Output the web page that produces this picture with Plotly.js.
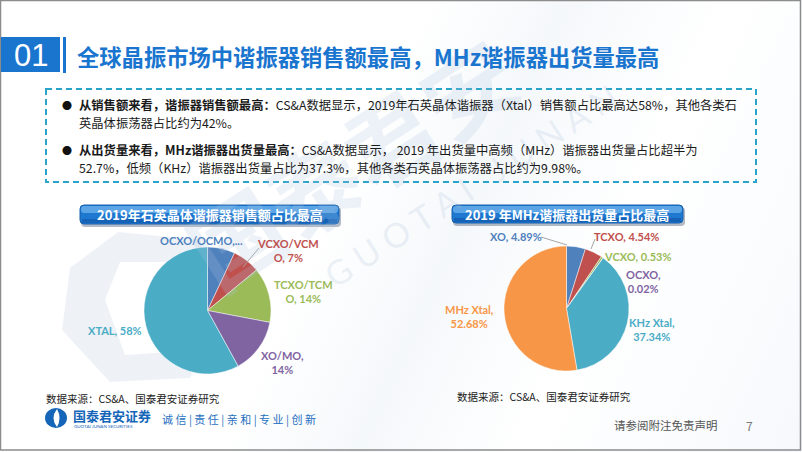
<!DOCTYPE html>
<html>
<head>
<meta charset="utf-8">
<script src="https://cdn.plot.ly/plotly-3.0.1.min.js"></script>
<style>
  html, body { margin:0; padding:0; }
  body { width:802px; height:452px; overflow:hidden;
    background: linear-gradient(115deg, #ffffff 0%, #ffffff 42%, #f5f8fb 56%, #ffffff 72%, #f6f9fc 100%); }
  #chart { width:802px; height:452px; }
</style>
</head>
<body>
<div id="chart"></div>
<script>
// ---------- data ----------
const leftLabels  = ['OCXO/OCMO', 'VCXO/VCMO', 'TCXO/TCMO', 'XO/MO', 'XTAL'];
const leftValues  = [7, 7, 14, 14, 58];
const rightLabels = ['XO', 'TCXO', 'VCXO', 'OCXO', 'KHz Xtal', 'MHz Xtal'];
const rightValues = [4.89, 4.54, 0.53, 0.02, 37.34, 52.68];

const pageTitle   = '全球晶振市场中谐振器销售额最高，MHz谐振器出货量最高';
const leftTitle   = '2019年石英晶体谐振器销售额占比最高';
const rightTitle  = '2019 年MHz谐振器出货量占比最高';
const sourceText  = '数据来源：CS&A、国泰君安证券研究';
const bulletLines = [
  ['从销售额来看，谐振器销售额最高：', 'CS&A数据显示，2019年石英晶体谐振器（Xtal）销售额占比最高达58%，其他各类石'],
  ['', '英晶体振荡器占比约为42%。'],
  ['从出货量来看，MHz谐振器出货量最高：', 'CS&A数据显示， 2019 年出货量中高频（MHz）谐振器出货量占比超半为'],
  ['', '52.7%，低频（KHz）谐振器出货量占比为37.3%，其他各类石英晶体振荡器占比约为9.98%。']
];

// ---------- styles ----------
const leftColors  = ['#4f81bd', '#c0504d', '#9bbb59', '#8064a2', '#4bacc6'];
const rightColors = ['#4f81bd', '#c0504d', '#9bbb59', '#8064a2', '#4bacc6', '#f79646'];
const CJK = '"Noto Sans CJK SC", "Noto Sans", sans-serif';
const LAT = 'Lato, "Open Sans", sans-serif';
const W = 802, H = 452;

function dom(x0, x1, y0, y1) { return { x: [x0 / W, x1 / W], y: [1 - y1 / H, 1 - y0 / H] }; }

// label texts built from data
const pct = v => v + '%';
const lt = leftLabels.map((l, i) => l + ', ' + pct(leftValues[i]));
const rt = rightLabels.map((l, i) => l + ', ' + pct(rightValues[i]));
const leftShown = [
  leftLabels[0] + ',...',
  lt[1].slice(0, 8) + '<br>' + lt[1].slice(8),
  lt[2].slice(0, 8) + '<br>' + lt[2].slice(8),
  leftLabels[3] + ',<br>' + pct(leftValues[3]),
  lt[4]
];
const rightShown = [
  rt[0], rt[1], rt[2],
  rightLabels[3] + ',<br>' + pct(rightValues[3]),
  rightLabels[4] + ',<br>' + pct(rightValues[4]),
  rightLabels[5] + ',<br>' + pct(rightValues[5])
];
const leftPos  = [[201, 240], [288, 250], [303, 291], [282, 362], [115, 330]];
const rightPos = [[516, 236], [626, 236], [637, 256], [643, 281], [652, 329], [469, 316]];
const lineY    = [104.5, 122.5, 149.5, 167.5];

const pieCommon = {
  type: 'pie', sort: false, direction: 'clockwise', rotation: 0,
  textinfo: 'none', hoverinfo: 'label+percent', showlegend: false,
  marker: { line: { color: 'rgba(255,255,255,0.6)', width: 0.8 } }
};

const data = [
  { type: 'scatter', x: [0], y: [0], mode: 'markers', marker: { opacity: 0 }, hoverinfo: 'skip', showlegend: false },
  Object.assign({}, pieCommon, { labels: leftLabels, values: leftValues,
    marker: { colors: leftColors, line: pieCommon.marker.line }, domain: dom(144, 271, 247, 374) }),
  Object.assign({}, pieCommon, { labels: rightLabels, values: rightValues,
    marker: { colors: rightColors, line: pieCommon.marker.line }, domain: dom(504, 629, 246, 371) })
];

function rr(x0, y0, x1, y1, r) {
  return `M${x0 + r},${y0} L${x1 - r},${y0} Q${x1},${y0} ${x1},${y0 + r} L${x1},${y1 - r} Q${x1},${y1} ${x1 - r},${y1} ` +
         `L${x0 + r},${y1} Q${x0},${y1} ${x0},${y1 - r} L${x0},${y0 + r} Q${x0},${y0} ${x0 + r},${y0} Z`;
}
function titleBar(x0, y0, x1, y1) {
  return [
    { type: 'path', path: rr(x0 + 1, y0 + 2, x1 + 2, y1 + 3, 4), fillcolor: 'rgba(40,60,90,0.35)', line: { width: 0 }, xref: 'x', yref: 'y', layer: 'below' },
    { type: 'path', path: rr(x0, y0, x1, y1, 4), fillcolor: '#1f78cf', line: { color: '#1660b0', width: 1 }, xref: 'x', yref: 'y' },
    { type: 'path', path: rr(x0 + 1, y0 + 1, x1 - 1, y0 + 8, 3), fillcolor: 'rgba(140,200,250,0.55)', line: { width: 0 }, xref: 'x', yref: 'y' },
    { type: 'rect', x0: x0 + 2, x1: x1 - 2, y0: y1 - 5, y1: y1 - 1, fillcolor: 'rgba(10,70,150,0.45)', line: { width: 0 }, xref: 'x', yref: 'y' }
  ];
}

const shapes = [
  // slide border
  { type: 'rect', x0: 0.5, x1: 800.5, y0: 0.5, y1: 450, line: { color: '#8c8c8c', width: 1.5 }, xref: 'x', yref: 'y', layer: 'below' },
  // watermark hex ring
  { type: 'path', path: 'M62,330 L70,268 L118,232 L200,240 L222,300 L190,378 L110,382 Z M105,300 L125,355 L170,352 L190,300 L165,262 L120,262 Z',
    fillcolor: 'rgba(195,208,225,0.28)', line: { width: 0 }, xref: 'x', yref: 'y', layer: 'below' },
  // header box
  { type: 'rect', x0: 1, x1: 60, y0: 37, y1: 72, fillcolor: '#1a75cf', line: { width: 0 }, xref: 'x', yref: 'y' },
  { type: 'rect', x0: 63, x1: 66, y0: 37, y1: 73, fillcolor: '#1a75cf', line: { width: 0 }, xref: 'x', yref: 'y' },
  // dashed text box
  { type: 'rect', x0: 46, x1: 756, y0: 89, y1: 182, line: { color: '#2aa3c9', width: 2, dash: '6px,4px' }, fillcolor: 'rgba(0,0,0,0)', xref: 'x', yref: 'y' },
  ...titleBar(80, 205, 339, 224),
  ...titleBar(452, 205, 683, 223),
  // leader lines
  { type: 'line', x0: 259, y0: 248, x1: 243, y1: 267, line: { color: '#a6a6a6', width: 1 }, xref: 'x', yref: 'y' },
  { type: 'line', x0: 541, y0: 237, x1: 567, y1: 245, line: { color: '#a6a6a6', width: 1 }, xref: 'x', yref: 'y' },
  { type: 'line', x0: 595, y0: 239, x1: 591, y1: 249, line: { color: '#a6a6a6', width: 1 }, xref: 'x', yref: 'y' },
  // footer logo
  { type: 'circle', x0: 45, x1: 67, y0: 408, y1: 428, fillcolor: '#1565b8', line: { width: 0 }, xref: 'x', yref: 'y' },
  { type: 'path', path: 'M57,409 Q50,418 57,427 Q62,418 57,409 Z', fillcolor: '#ffffff', line: { width: 0 }, xref: 'x', yref: 'y' }
];

function ann(x, y, text, size, color, opts) {
  return Object.assign({ x, y, xref: 'x', yref: 'y', text, showarrow: false,
    font: { size, color, family: CJK } }, opts || {});
}

const annotations = [
  // watermarks
  ann(350, 160, '<b>国泰君安</b>', 92, 'rgba(175,198,225,0.22)', { textangle: -33 }),
  ann(470, 185, 'G U O T A I   J U N A N', 34, 'rgba(175,195,220,0.22)', { textangle: -33, font: { size: 34, color: 'rgba(175,195,220,0.22)', family: LAT } }),
  // header
  ann(31, 55, '01', 31, '#ffffff', { font: { size: 31, color: '#ffffff', family: '"Liberation Sans", Arial, sans-serif' } }),
  ann(75, 56, '<b>' + pageTitle + '</b>', 22.3, '#1a75cf', { xanchor: 'left' }),
  // bullets
  ann(67, 105, '●', 10, '#111111'),
  ann(67, 150, '●', 10, '#111111'),
  // chart titles
  ann(210, 214, '<b>' + leftTitle + '</b>', 13, '#ffffff'),
  ann(567, 214, '<b>' + rightTitle + '</b>', 13, '#ffffff'),
  // sources
  ann(44, 398, sourceText, 10.5, '#222222', { xanchor: 'left' }),
  ann(455, 396, sourceText, 10.5, '#222222', { xanchor: 'left' }),
  // footer
  ann(71, 415, '<b>国泰君安证券</b>', 13, '#1565b8', { xanchor: 'left' }),
  ann(72, 426, 'GUOTAI JUNAN SECURITIES', 4.5, '#1565b8', { xanchor: 'left', font: { size: 4.5, color: '#1565b8', family: LAT } }),
  ann(160, 419, '诚 信 | 责 任 | 亲 和 | 专 业 | 创 新', 11, '#1f6fc0', { xanchor: 'left' }),
  ann(612, 425, '请参阅附注免责声明', 11.5, '#555555', { xanchor: 'left' }),
  ann(749, 425, '7', 12, '#777777')
];

bulletLines.forEach((ln, i) => annotations.push(ann(77, lineY[i],
  (ln[0] ? '<b>' + ln[0] + '</b>' : '') + ln[1], 12.3, '#1a1a1a', { xanchor: 'left', align: 'left' })));

leftShown.forEach((t, i) => annotations.push(ann(leftPos[i][0], leftPos[i][1], '<b>' + t + '</b>', 11, leftColors[i],
  { font: { size: 11, color: leftColors[i], family: LAT } })));
rightShown.forEach((t, i) => annotations.push(ann(rightPos[i][0], rightPos[i][1], '<b>' + t + '</b>', 11, rightColors[i],
  { font: { size: 11, color: rightColors[i], family: LAT } })));

const layout = {
  width: W, height: H,
  margin: { l: 0, r: 0, t: 0, b: 0 },
  paper_bgcolor: 'rgba(0,0,0,0)', plot_bgcolor: 'rgba(0,0,0,0)',
  xaxis: { range: [0, W], visible: false, fixedrange: true },
  yaxis: { range: [H, 0], visible: false, fixedrange: true },
  showlegend: false,
  shapes, annotations
};

Plotly.newPlot('chart', data, layout, { displayModeBar: false, staticPlot: true });
</script>
</body>
</html>
